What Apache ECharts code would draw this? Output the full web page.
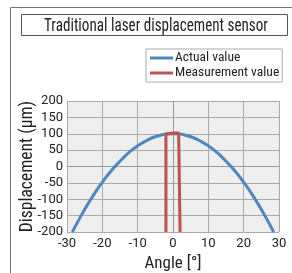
<!DOCTYPE html>
<html>
<head>
<meta charset="utf-8">
<script src="https://cdn.jsdelivr.net/npm/echarts@6/dist/echarts.min.js"></script>
<style>
  html, body { margin: 0; padding: 0; background: #fff; }
  #chart { width: 292px; height: 273px; }
</style>
</head>
<body>
<div id="chart"></div>
<script>
// values
const actualAngle = [-28.5, -26, -24, -22, -20, -18, -16, -14, -12, -10, -8, -6, -4, -2, 0,
  2, 4, 6, 8, 10, 12, 14, 16, 18, 20, 22, 24, 26, 28.5];
const actualValue = [-200, -150, -113, -79, -48, -20, 5, 27, 47, 63, 76, 87, 94, 99, 100,
  99, 94, 87, 76, 63, 47, 27, 5, -20, -48, -79, -113, -150, -200];
const measAngle = [-2, -2, -1.6, 0, 1.6, 2, 2];
const measValue = [-200, 99, 102, 102, 102, 99, -200];
const xTicks = [-30, -20, -10, 0, 10, 20, 30];
const yTicks = [-200, -150, -100, -50, 0, 50, 100, 150, 200];

const font = 'Roboto, "Liberation Sans", sans-serif';
const cond = '"Roboto Condensed", Roboto, sans-serif';
const pair = (xs, ys) => xs.map((x, i) => [x, ys[i]]);

const chart = echarts.init(document.getElementById('chart'));
chart.setOption({
  animation: false,
  backgroundColor: '#fff',
  textStyle: { fontFamily: font, color: '#222' },
  graphic: [
    { type: 'rect', shape: { x: 10.5, y: 7.5, width: 300, height: 300 },
      style: { fill: 'none', stroke: '#777', lineWidth: 1 } },
    { type: 'rect', shape: { x: 21.5, y: 14.5, width: 266, height: 21 },
      style: { fill: '#fff', stroke: '#555', lineWidth: 1 } },
    { type: 'text', x: 156, y: 26, scaleX: 0.84, originX: 0,
      style: { text: 'Traditional laser displacement sensor', font: '18px ' + cond,
        fill: '#222', align: 'center', verticalAlign: 'middle' } }
  ],
  legend: {
    orient: 'vertical',
    left: 146,
    top: 49,
    padding: [2, 3, 2, 4],
    itemGap: 1,
    itemWidth: 23,
    itemHeight: 3,
    borderColor: '#aaa',
    borderWidth: 1,
    backgroundColor: '#fff',
    textStyle: { fontFamily: cond, fontSize: 13.5, color: '#222', padding: [0, 0, 0, -3] },
    data: [
      { name: 'Actual value', icon: 'rect' },
      { name: 'Measurement value', icon: 'rect' }
    ]
  },
  grid: { left: 67, right: 13, top: 101, bottom: 36 },
  xAxis: {
    type: 'value',
    min: -30, max: 30, interval: 10,
    name: 'Angle [°]',
    nameLocation: 'middle',
    nameGap: 23,
    nameMoveOverlap: false,
    nameTextStyle: { fontSize: 17, color: '#222', fontFamily: cond },
    axisLine: { show: true, lineStyle: { color: '#999' } },
    axisTick: { show: false },
    axisLabel: { fontSize: 13, color: '#222', margin: 5, fontFamily: font,
      customValues: xTicks },
    splitLine: { show: true, lineStyle: { color: '#aaa' } }
  },
  yAxis: {
    type: 'value',
    min: -200, max: 200, interval: 50,
    name: 'Displacement (µm)',
    nameLocation: 'middle',
    nameGap: 30,
    nameMoveOverlap: false,
    nameTextStyle: { fontSize: 17.5, color: '#222', fontFamily: cond },
    axisLine: { show: true, lineStyle: { color: '#999' } },
    axisTick: { show: false },
    axisLabel: { fontSize: 13, color: '#222', margin: 4, fontFamily: font,
      customValues: yTicks },
    splitLine: { show: true, lineStyle: { color: '#aaa' } },
    splitArea: { show: true, areaStyle: { color: ['#eeeeee', '#eeeeee'] } }
  },
  series: [
    {
      name: 'Actual value',
      type: 'line',
      smooth: true,
      symbol: 'none',
      color: '#4f86bf',
      lineStyle: { width: 3 },
      data: pair(actualAngle, actualValue)
    },
    {
      name: 'Measurement value',
      type: 'line',
      symbol: 'none',
      color: '#c0504d',
      lineStyle: { width: 3 },
      data: pair(measAngle, measValue)
    }
  ]
});
</script>
</body>
</html>
